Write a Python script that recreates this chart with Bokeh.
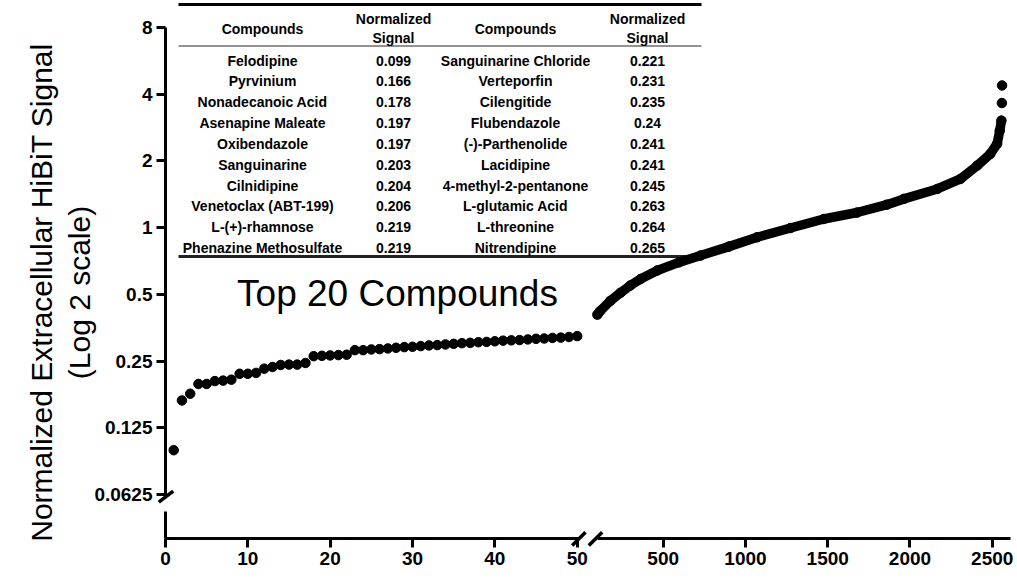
import math

from bokeh.embed import file_html
from bokeh.models import Column, FixedTicker, GridBox, Label, NumeralTickFormatter, Range1d
from bokeh.plotting import figure
from bokeh.resources import INLINE

# ---- data -------------------------------------------------------------
# Top 20 compounds (ranks 1-20), listed in two table columns
names_col1 = ["Felodipine", "Pyrvinium", "Nonadecanoic Acid", "Asenapine Maleate",
              "Oxibendazole", "Sanguinarine", "Cilnidipine", "Venetoclax (ABT-199)",
              "L-(+)-rhamnose", "Phenazine Methosulfate"]
names_col2 = ["Sanguinarine Chloride", "Verteporfin", "Cilengitide", "Flubendazole",
              "(-)-Parthenolide", "Lacidipine", "4-methyl-2-pentanone", "L-glutamic Acid",
              "L-threonine", "Nitrendipine"]
top20_signal = [0.099, 0.166, 0.178, 0.197, 0.197, 0.203, 0.204, 0.206, 0.219, 0.219,
                0.221, 0.231, 0.235, 0.24, 0.241, 0.241, 0.245, 0.263, 0.264, 0.265]
# ranks 21-50
rank21_50_signal = [0.266, 0.267, 0.280, 0.280, 0.282, 0.283, 0.285, 0.287, 0.289, 0.290,
                    0.292, 0.294, 0.295, 0.297, 0.299, 0.301, 0.302, 0.304, 0.305, 0.307,
                    0.309, 0.310, 0.311, 0.313, 0.315, 0.316, 0.318, 0.319, 0.321, 0.324]
# remaining library, ranks 100 onwards (dense run)
tail_rank = [100, 115, 180, 240, 300, 362, 464, 595, 727, 899, 1071, 1274, 1476, 1679,
             1860, 1963, 2166, 2307, 2409, 2488, 2530, 2546, 2556]
tail_signal = [0.405, 0.419, 0.468, 0.508, 0.548, 0.586, 0.641, 0.697, 0.748, 0.821, 0.905,
               0.996, 1.094, 1.17, 1.27, 1.348, 1.495, 1.659, 1.905, 2.15, 2.39, 2.74, 3.04]
# two highest compounds
max_rank = [2559, 2560]
max_signal = [3.65, 4.38]

y_ticks = [0.0625, 0.125, 0.25, 0.5, 1, 2, 4, 8]
x_ticks_low = [0, 10, 20, 30, 40, 50]
x_ticks_high = [500, 1000, 1500, 2000, 2500]

low_rank = list(range(1, 51))
low_signal = top20_signal + rank21_50_signal

# ---- page geometry ------------------------------------------------------
W, H = 1017, 580
FL, FR, FT, FB = 165, 1010, 0, 538          # plot frame edges (page px)
Y8_PX, PX_PER_DOUBLING = 27, 66.71          # log2 axis placement
LOW_PX_PER_UNIT = 8.234                     # left segment: ranks 0-50
HIGH_PX_PER_UNIT, HIGH_500_PX = 0.1645, 662.7   # right segment

y_lo = 2 ** (3 - (FB - Y8_PX) / PX_PER_DOUBLING)
y_hi = 2 ** (3 + (Y8_PX - FT) / PX_PER_DOUBLING)
x_low_end = (FR - FL) / LOW_PX_PER_UNIT
x_high_start = 500 - (HIGH_500_PX - FL) / HIGH_PX_PER_UNIT
x_high_end = 500 + (FR - HIGH_500_PX) / HIGH_PX_PER_UNIT


def px_x(px):
    """page x (px) -> left-segment rank"""
    return (px - FL) / LOW_PX_PER_UNIT


def px_y(py):
    """page y (px) -> signal on the log2 scale"""
    return 2 ** (3 - (py - Y8_PX) / PX_PER_DOUBLING)


def px_x_high(px):
    return 500 + (px - HIGH_500_PX) / HIGH_PX_PER_UNIT


def make_fig(x_range):
    p = figure(width=W, height=H, x_range=x_range, y_range=Range1d(y_lo, y_hi),
               y_axis_type="log", output_backend="svg", toolbar_location=None,
               min_border_left=FL, min_border_right=W - FR,
               min_border_top=FT, min_border_bottom=H - FB)
    p.outline_line_color = None
    p.xgrid.visible = False
    p.ygrid.visible = False
    return p


def style_axis(a):
    a.axis_line_width = 3
    a.axis_line_color = "black"
    a.major_tick_line_width = 3
    a.major_tick_line_color = "black"
    a.major_tick_in = 0
    a.major_tick_out = 9
    a.minor_tick_line_color = None
    a.major_label_text_font = "Liberation Sans"
    a.major_label_text_font_style = "bold"
    a.major_label_text_font_size = "19px"
    a.major_label_text_color = "black"
    a.major_label_standoff = 4


# ---- left segment (ranks 1-50) with the y axis ----------------------------
pa = make_fig(Range1d(0, x_low_end))
pa.background_fill_color = "white"
pa.border_fill_color = "white"
for a in (pa.xaxis[0], pa.yaxis[0]):
    style_axis(a)
pa.xaxis.ticker = FixedTicker(ticks=x_ticks_low)
pa.xaxis.bounds = (0, px_x(578.5))
pa.yaxis.ticker = FixedTicker(ticks=y_ticks)
pa.yaxis.formatter = NumeralTickFormatter(format="0.[0000]")
pa.yaxis.bounds = (px_y(496), 8)

pa.scatter(low_rank, low_signal, size=9.5, color="black")

# ---- annotation layer in page pixels (y downwards) -------------------------
pc = figure(width=W, height=H, x_range=Range1d(0, W), y_range=Range1d(H, 0),
            x_axis_location=None, y_axis_location=None, min_border=0,
            output_backend="svg", toolbar_location=None)
pc.outline_line_color = None
pc.background_fill_color = None
pc.border_fill_color = None
pc.xgrid.visible = False
pc.ygrid.visible = False

# axis break marks
pc.segment(x0=[158.3, 571.7, 588.3], y0=[501.7, 545.0, 545.0],
           x1=[172.7, 585.0, 601.7], y1=[490.7, 531.7, 531.7],
           line_width=3.5, line_color="black")

# y axis title (two lines)
for cx, txt in [(41, "Normalized Extracellular HiBiT Signal"), (79, "(Log 2 scale)")]:
    pc.add_layout(Label(x=cx, y=292, text=txt, angle=math.pi / 2,
                        text_align="center", text_baseline="middle",
                        text_font="Liberation Sans", text_font_size="30px",
                        text_color="black"))

# table of the top 20 compounds
col_x = [262, 393, 515, 647]
pc.segment(x0=[178] * 3, y0=[4, 45.5, 256], x1=[701] * 3, y1=[4, 45.5, 256],
           line_width=[3, 1.5, 3], line_color=["black", "#6e6e6e", "#222222"])


def cell(cx, cy, txt):
    pc.add_layout(Label(x=cx, y=cy, text=txt, text_align="center",
                        text_baseline="middle", text_font="Liberation Sans",
                        text_font_style="bold", text_font_size="14px",
                        text_color="black"))


for k in (0, 2):
    cell(col_x[k], 28, "Compounds")
for k in (1, 3):
    cell(col_x[k], 18, "Normalized")
    cell(col_x[k], 37.5, "Signal")
for i in range(10):
    cy = 60 + 20.85 * i
    cell(col_x[0], cy, names_col1[i])
    cell(col_x[1], cy, str(top20_signal[i]))
    cell(col_x[2], cy, names_col2[i])
    cell(col_x[3], cy, str(top20_signal[i + 10]))

pc.add_layout(Label(x=397, y=293, text="Top 20 Compounds",
                    text_align="center", text_baseline="middle",
                    text_font="Liberation Sans", text_font_size="37px",
                    text_color="black"))

# ---- right segment (ranks 100+) -----------------------------------------
pb = make_fig(Range1d(x_high_start, x_high_end))
pb.background_fill_color = None
pb.border_fill_color = None
for a in (pb.xaxis[0], pb.yaxis[0]):
    style_axis(a)
pb.xaxis.ticker = FixedTicker(ticks=x_ticks_high)
pb.xaxis.bounds = (px_x_high(596.5), x_high_end)
pb.yaxis.ticker = FixedTicker(ticks=[])
pb.yaxis.bounds = (y_lo, px_y(511))

pb.line(tail_rank, tail_signal, line_width=9.5, line_cap="round", line_join="round",
        color="black")
pb.scatter(tail_rank + max_rank, tail_signal + max_signal, size=9.5, color="black")

layout = GridBox(children=[(pa, 0, 0), (Column(children=[pc]), 0, 0), (pb, 0, 0)])

with open("out.html", "w") as f:
    f.write(file_html(layout, INLINE))
